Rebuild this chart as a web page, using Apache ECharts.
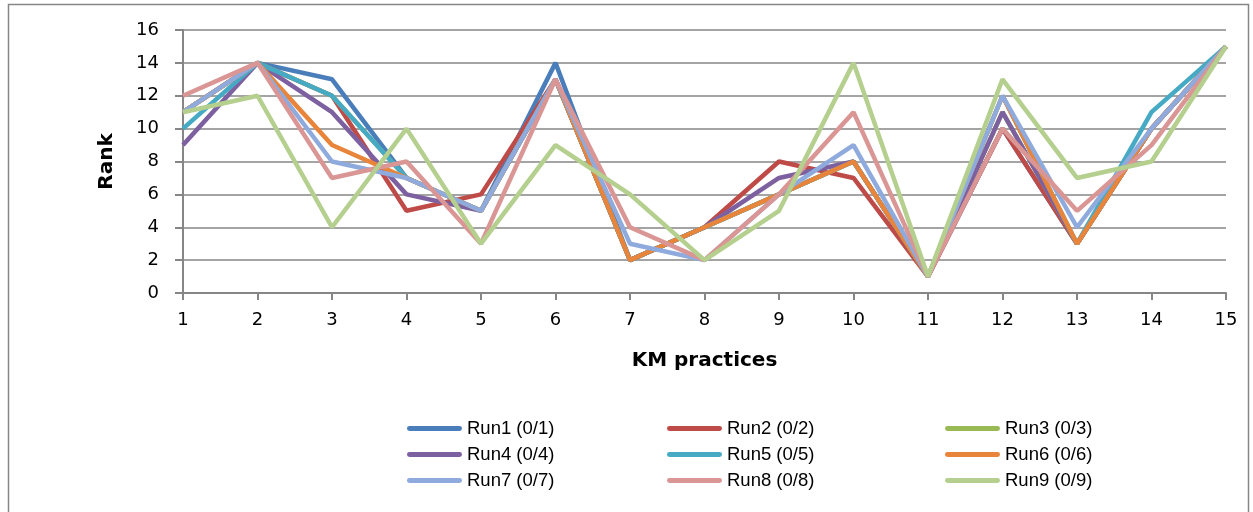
<!DOCTYPE html>
<html>
<head>
<meta charset="utf-8">
<script src="https://cdn.jsdelivr.net/npm/echarts@6/dist/echarts.min.js"></script>
<style>html,body{margin:0;padding:0;background:#fff;}#c{width:1253px;height:512px;}</style>
</head>
<body>
<div id="c"></div>
<script>
const categories = ['1','2','3','4','5','6','7','8','9','10','11','12','13','14','15'];
const run1 = [11,14,13,7,5,14,2,4,6,8,1,10,3,10,15];
const run2 = [11,14,12,5,6,13,2,4,8,7,1,10,3,10,15];
const run3 = [11,14,12,7,5,13,2,4,6,8,1,11,3,10,15];
const run4 = [9,14,11,6,5,13,2,4,7,8,1,11,3,10,15];
const run5 = [10,14,12,7,5,13,2,4,6,8,1,12,3,11,15];
const run6 = [11,14,9,7,5,13,2,4,6,8,1,12,3,10,15];
const run7 = [11,14,8,7,5,13,3,2,6,9,1,12,4,10,15];
const run8 = [12,14,7,8,3,13,4,2,6,11,1,10,5,9,15];
const run9 = [11,12,4,10,3,9,6,2,5,14,1,13,7,8,15];
const seriesNames = ['Run1 (0/1)','Run2 (0/2)','Run3 (0/3)','Run4 (0/4)','Run5 (0/5)','Run6 (0/6)','Run7 (0/7)','Run8 (0/8)','Run9 (0/9)'];
const seriesData = [run1,run2,run3,run4,run5,run6,run7,run8,run9];
const colors = ['#4A7EBB','#BE4B48','#98B954','#7D60A0','#46AAC5','#E8853A','#8FAADC','#D99694','#B4CF8E'];

const chart = echarts.init(document.getElementById('c'));
const gray = '#868686';
const iconPath = 'path://M2,0 L53,0 A2,2 0 0 1 53,5 L2,5 A2,2 0 0 1 2,0 Z';
function legendAt(left, idx) {
  return {
    orient: 'vertical', top: 414, left: left, itemWidth: 55, itemHeight: 5, itemGap: 7,
    data: idx.map(i => ({ name: seriesNames[i], icon: iconPath, itemStyle: { color: colors[i] } })),
    textStyle: { fontFamily: "'Liberation Sans', sans-serif", fontSize: 18.5, color: '#000' }
  };
}
chart.setOption({
  animation: false,
  color: colors,
  graphic: [{ type: 'rect', shape: { x: 8.5, y: 4.5, width: 1240, height: 520 }, style: { fill: 'none', stroke: gray, lineWidth: 1.5 } }],
  grid: { left: 183, right: 27, top: 30, bottom: 219 },
  legend: [legendAt(402, [0,3,6]), legendAt(662, [1,4,7]), legendAt(940, [2,5,8])],
  xAxis: {
    type: 'category', data: categories, boundaryGap: false,
    name: 'KM practices', nameLocation: 'middle', nameGap: 58,
    nameTextStyle: { fontFamily: 'DejaVu Sans', fontWeight: 'bold', fontSize: 20, color: '#000' },
    axisLine: { lineStyle: { color: gray, width: 2 } },
    axisTick: { alignWithLabel: true, length: 7, lineStyle: { color: gray, width: 2 } },
    axisLabel: { fontFamily: 'DejaVu Sans', fontSize: 18, color: '#000', margin: 18 },
    splitLine: { show: false }
  },
  yAxis: {
    type: 'value', min: 0, max: 16, interval: 2,
    name: 'Rank', nameLocation: 'middle', nameGap: 66,
    nameTextStyle: { fontFamily: 'DejaVu Sans', fontWeight: 'bold', fontSize: 20, color: '#000' },
    axisLine: { show: true, lineStyle: { color: gray, width: 2 } },
    axisTick: { show: true, length: 8, lineStyle: { color: gray, width: 2 } },
    axisLabel: { fontFamily: 'DejaVu Sans', fontSize: 18, color: '#000', margin: 24 },
    splitLine: { lineStyle: { color: gray, width: 1.5 } }
  },
  series: seriesData.map((d, i) => ({
    name: seriesNames[i], type: 'line', data: d, symbol: 'none',
    lineStyle: { width: 4.5, color: colors[i] }, itemStyle: { color: colors[i] }
  }))
});
</script>
</body>
</html>
